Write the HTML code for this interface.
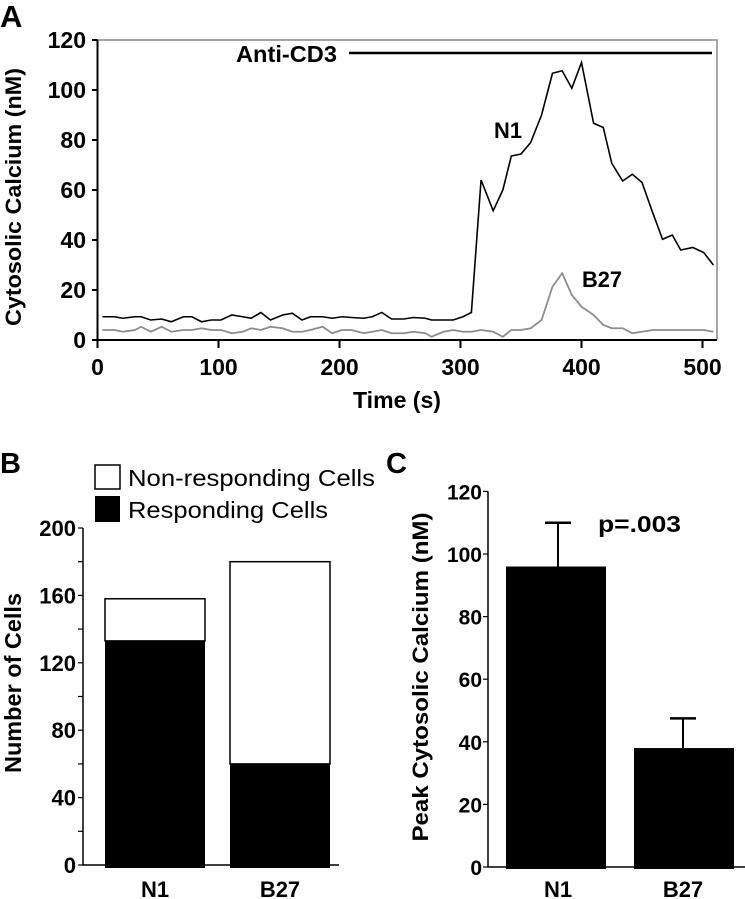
<!DOCTYPE html>
<html><head><meta charset="utf-8"><style>
html,body{margin:0;padding:0;background:#fff}
svg{display:block;font-family:"Liberation Sans",Arial,sans-serif;font-weight:bold}
</style></head><body>
<svg id="fig" width="745" height="899" viewBox="0 0 745 899" xmlns="http://www.w3.org/2000/svg">
<g id="pa"></g>
<g id="pb"></g>
<g id="pc"></g>
</svg>
<script>
// Panel A data
const aTimes=[4,14,21,31,36,44,53,61,71,78,86,94,102,111,120,127,135,143,153,161,169,176,186,194,202,210,220,227,235,243,253,261,271,276,286,294,302,309,317,327,335,342,350,358,367,376,384,392,400,410,418,425,434,442,450,459,467,475,482,492,501,509];
const aN1=[9.3,9.3,8.7,9.3,9.3,8,8.4,7.3,9.3,9.3,7.3,8,8,10,9.3,8.7,11,8,10,10.7,8,9.3,9.3,8.7,9.3,9,8.7,9.3,11,8.4,8.4,9,8.7,8,8,8,9.3,11,64,51.7,60,73.6,74.4,79,90,106.7,107.7,100.7,111,86.7,85,70.7,63.6,66.3,63,50.7,40.3,42,36,37,35,30];
const aB27=[4,4,3.3,4,5.3,3.3,5.3,3.3,4,4,4.7,4,4,2.7,3.3,4.7,4,5.3,4.7,3.3,3.3,4,5.3,2.7,4,4,2.7,3.3,4,2.7,2.7,3.3,2.7,1.3,3.3,4,3.3,3.3,4,3.3,1.3,4,4,4.7,8,21.3,26.7,18,13.3,10,6,4.7,4.7,2.7,3.3,4,4,4,4,4,4,3.3];
const aYTicks=[0,20,40,60,80,100,120];
const aXTicks=[0,100,200,300,400,500];
// Panel B data
const bCats=["N1","B27"];
const bResponding=[133,60];
const bTotal=[158,180];
const bYTicks=[0,40,80,120,160,200];
// Panel C data
const cCats=["N1","B27"];
const cPeak=[96,38];
const cErr=[14,9.5];
const cYTicks=[0,20,40,60,80,100,120];

const NS="http://www.w3.org/2000/svg";
function mk(parent,tag,attrs){const e=document.createElementNS(NS,tag);for(const k in attrs)e.setAttribute(k,attrs[k]);parent.appendChild(e);return e;}
function txt(parent,s,attrs){const e=mk(parent,'text',attrs);e.textContent=s;return e;}

// ---------- Panel A ----------
const pa=document.getElementById('pa');
const ax=t=>97.5+t*1.21, ay=v=>340-v*2.5;
let e;
e=txt(pa,'A',{x:0,y:27,'font-size':31});

e=mk(pa,'path',{d:`M${ax(0)},40 H717 V340`,fill:'none',stroke:'#888','stroke-width':1.5});

e=mk(pa,'path',{d:`M${ax(0)},40 V340 H717`,fill:'none',stroke:'#000','stroke-width':2});

aYTicks.forEach(v=>{
 e=mk(pa,'line',{x1:92,x2:ax(0),y1:ay(v),y2:ay(v),stroke:'#000','stroke-width':2});
 
 e=txt(pa,String(v),{x:86,y:ay(v)+8,'font-size':23,'text-anchor':'end'});
 
});
aXTicks.forEach(t=>{
 e=mk(pa,'line',{x1:ax(t),x2:ax(t),y1:340,y2:348,stroke:'#000','stroke-width':2});
 
 e=txt(pa,String(t),{x:ax(t),y:375,'font-size':23,'text-anchor':'middle'});
 
});
e=txt(pa,'Time (s)',{x:397,y:408,'font-size':23,'text-anchor':'middle',textLength:88,lengthAdjust:'spacingAndGlyphs'});

e=txt(pa,'Cytosolic Calcium (nM)',{x:0,y:0,'font-size':22,'text-anchor':'middle',transform:'translate(21,197) rotate(-90)',textLength:258,lengthAdjust:'spacingAndGlyphs'});

e=txt(pa,'Anti-CD3',{x:236,y:62,'font-size':23,textLength:101,lengthAdjust:'spacingAndGlyphs'});

e=mk(pa,'line',{x1:349,x2:712,y1:53,y2:53,stroke:'#000','stroke-width':2.5});

e=mk(pa,'polyline',{points:aTimes.map((t,i)=>ax(t)+','+ay(aB27[i])).join(' '),fill:'none',stroke:'#8c8c8c','stroke-width':1.8});

e=mk(pa,'polyline',{points:aTimes.map((t,i)=>ax(t)+','+ay(aN1[i])).join(' '),fill:'none',stroke:'#000','stroke-width':1.6});

e=txt(pa,'N1',{x:494,y:138,'font-size':22,textLength:28,lengthAdjust:'spacingAndGlyphs'});

e=txt(pa,'B27',{x:582,y:287,'font-size':22,textLength:40,lengthAdjust:'spacingAndGlyphs'});


// ---------- Panel B ----------
const pb=document.getElementById('pb');
const by=v=>865-v*1.685;
const bX=[105,230], bW=100;
e=txt(pb,'B',{x:0,y:473,'font-size':29});

e=mk(pb,'rect',{x:95,y:465,width:25,height:24,fill:'#fff',stroke:'#000','stroke-width':1.5});

e=txt(pb,'Non-responding Cells',{x:128,y:486,'font-size':23,'font-weight':'normal',textLength:247,lengthAdjust:'spacingAndGlyphs'});

e=mk(pb,'rect',{x:95,y:496,width:25,height:26,fill:'#000'});

e=txt(pb,'Responding Cells',{x:128,y:518,'font-size':23,'font-weight':'normal',textLength:200,lengthAdjust:'spacingAndGlyphs'});

bCats.forEach((c,i)=>{
 e=mk(pb,'rect',{x:bX[i],y:by(bTotal[i]),width:bW,height:by(bResponding[i])-by(bTotal[i]),fill:'#fff',stroke:'#000','stroke-width':1.5});
 
 e=mk(pb,'rect',{x:bX[i],y:by(bResponding[i]),width:bW,height:by(0)-by(bResponding[i])+3,fill:'#000'});
 
 e=txt(pb,c,{x:bX[i]+bW/2,y:897,'font-size':22,'text-anchor':'middle'});
 
});
e=mk(pb,'path',{d:`M83,${by(200)} V865 H339`,fill:'none',stroke:'#000','stroke-width':1.5});

for(let v=0;v<=200;v+=20){
 e=mk(pb,'line',{x1:78,x2:83,y1:by(v),y2:by(v),stroke:'#000','stroke-width':1.2});
 
}
bYTicks.forEach(v=>{
 e=txt(pb,String(v),{x:76,y:by(v)+8,'font-size':22,'text-anchor':'end'});
 
});
e=txt(pb,'Number of Cells',{x:0,y:0,'font-size':23,'text-anchor':'middle',transform:'translate(21,683) rotate(-90)',textLength:180,lengthAdjust:'spacingAndGlyphs'});


// ---------- Panel C ----------
const pc=document.getElementById('pc');
const cy=v=>867-v*3.13;
const cX=[506,634], cW=100;
e=txt(pc,'C',{x:386,y:473,'font-size':29});

cCats.forEach((c,i)=>{
 const cx=cX[i]+cW/2+(i===0?2:-1);
 e=mk(pc,'line',{x1:cx,x2:cx,y1:cy(cPeak[i]),y2:cy(cPeak[i]+cErr[i]),stroke:'#000','stroke-width':2});
 
 e=mk(pc,'line',{x1:cx-13,x2:cx+13,y1:cy(cPeak[i]+cErr[i]),y2:cy(cPeak[i]+cErr[i]),stroke:'#000','stroke-width':2.5});
 
 e=mk(pc,'rect',{x:cX[i],y:cy(cPeak[i]),width:cW,height:cy(0)-cy(cPeak[i])+2,fill:'#000'});
 
 e=txt(pc,c,{x:cx,y:897,'font-size':22,'text-anchor':'middle'});
 
});
e=mk(pc,'path',{d:`M488,${cy(120)} V867 H745`,fill:'none',stroke:'#000','stroke-width':1.5});

cYTicks.forEach(v=>{
 e=mk(pc,'line',{x1:483,x2:488,y1:cy(v),y2:cy(v),stroke:'#000','stroke-width':1.2});
 
 e=txt(pc,String(v),{x:482,y:cy(v)+8,'font-size':21,'text-anchor':'end'});
 
});
e=txt(pc,'p=.003',{x:598,y:532,'font-size':23,textLength:83,lengthAdjust:'spacingAndGlyphs'});

e=txt(pc,'Peak Cytosolic Calcium (nM)',{x:0,y:0,'font-size':22,'text-anchor':'middle',transform:'translate(428,677) rotate(-90)',textLength:329,lengthAdjust:'spacingAndGlyphs'});

</script>
</body></html>
